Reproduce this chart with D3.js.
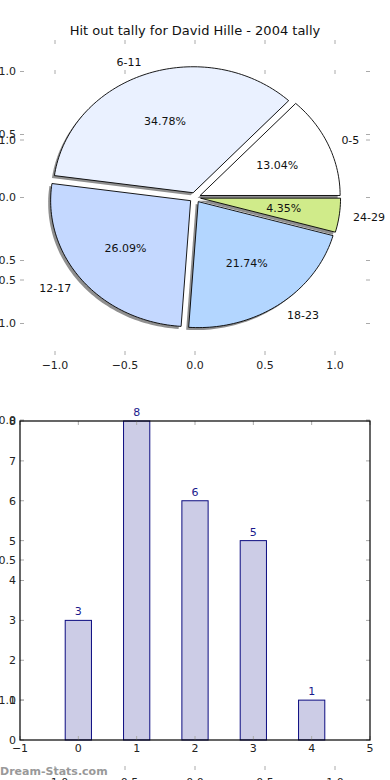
<!DOCTYPE html>
<html>
<head>
<meta charset="utf-8">
<script src="https://cdn.jsdelivr.net/npm/d3@7"></script>
<style>
  body { margin: 0; background: #fff; }
  text { font-family: "DejaVu Sans", sans-serif; }
</style>
</head>
<body>
<div id="chart"></div>
<script>
// chart data
var title = "Hit out tally for David Hille - 2004 tally"
var pieLabels = ["0-5", "6-11", "12-17", "18-23", "24-29"]
var pieValues = [3, 8, 6, 5, 1]
var pieColors = ["#ffffff", "#eaf1ff", "#c4d8ff", "#b3d6ff", "#d0eb8a"]
var barCats = [0, 1, 2, 3, 4]
var barValues = [3, 8, 6, 5, 1]
var unitTicks = [-1, -0.5, 0, 0.5, 1]
var barXTicks = [-1, 0, 1, 2, 3, 4, 5]
var barYTicks = [0, 1, 2, 3, 4, 5, 6, 7, 8]

var width = 390
var height = 780
var explode = 0.04
var tickCol = "#aaa"

var svg = d3.select("#chart").append("svg")
    .attr("width", width)
    .attr("height", height)

var fmt = function(v){
  return d3.format(".1f")(v).replace("-", "\u2212")
}

// draws the little inward ticks + labels the way the old matplotlib style did
var drawTicks = function(g, xs, ys, xt, yt, box, xoff, xfmt, yfmt){
  var tl = 4
  g.selectAll(null).data(xt).enter().append("line")
    .attr("x1", function(d){ return xs(d) }).attr("x2", function(d){ return xs(d) })
    .attr("y1", box.top).attr("y2", box.top + tl)
    .attr("stroke", tickCol)
  g.selectAll(null).data(xt).enter().append("line")
    .attr("x1", function(d){ return xs(d) }).attr("x2", function(d){ return xs(d) })
    .attr("y1", box.bottom).attr("y2", box.bottom - tl)
    .attr("stroke", tickCol)
  g.selectAll(null).data(yt).enter().append("line")
    .attr("y1", function(d){ return ys(d) }).attr("y2", function(d){ return ys(d) })
    .attr("x1", box.left).attr("x2", box.left + tl)
    .attr("stroke", tickCol)
  g.selectAll(null).data(yt).enter().append("line")
    .attr("y1", function(d){ return ys(d) }).attr("y2", function(d){ return ys(d) })
    .attr("x1", box.right).attr("x2", box.right - tl)
    .attr("stroke", tickCol)
  g.selectAll(null).data(xt).enter().append("text")
    .attr("x", function(d){ return xs(d) })
    .attr("y", box.bottom + xoff)
    .attr("text-anchor", "middle")
    .attr("font-size", 11)
    .attr("fill", "#222")
    .text(xfmt)
  g.selectAll(null).data(yt).enter().append("text")
    .attr("x", box.left - 4)
    .attr("y", function(d){ return ys(d) })
    .attr("dy", "0.36em")
    .attr("text-anchor", "end")
    .attr("font-size", 11)
    .attr("fill", "#222")
    .text(yfmt)
}

// ---- phantom axes behind everything (left over from the figure)
var ph = {left: 20, right: 370, top: 70, bottom: 770}
var phx = d3.scaleLinear().domain([-1.25, 1.25]).range([ph.left, ph.right])
var phy = d3.scaleLinear().domain([-1.25, 1.25]).range([ph.bottom, ph.top])
drawTicks(svg.append("g"), phx, phy, unitTicks, unitTicks, ph, 16, fmt, fmt)

// ---- pie
var pb = {left: 20, right: 370, top: 40, bottom: 355}
var px = d3.scaleLinear().domain([-1.25, 1.25]).range([pb.left, pb.right])
var py = d3.scaleLinear().domain([-1.25, 1.25]).range([pb.bottom, pb.top])
drawTicks(svg.append("g"), px, py, unitTicks, unitTicks, pb, 14, fmt, fmt)

svg.append("text")
  .attr("x", width / 2)
  .attr("y", 35)
  .attr("text-anchor", "middle")
  .attr("font-size", 13)
  .attr("fill", "#111")
  .text(title)

var total = d3.sum(pieValues)
var arcs = d3.pie().sort(null)(pieValues)

var wedgePath = function(a, dx, dy){
  var cx = explode * Math.cos((a.startAngle + a.endAngle) / 2)
  var cy = explode * Math.sin((a.startAngle + a.endAngle) / 2)
  var n = Math.max(4, Math.ceil((a.endAngle - a.startAngle) * 40))
  var pts = [[cx, cy]]
  for (var i = 0; i <= n; i++) {
    var t = a.startAngle + (a.endAngle - a.startAngle) * i / n
    pts.push([cx + Math.cos(t), cy + Math.sin(t)])
  }
  pts.push([cx, cy])
  return d3.line()
    .x(function(p){ return px(p[0]) + dx })
    .y(function(p){ return py(p[1]) + dy })(pts) + "Z"
}

var pieG = svg.append("g")
arcs.forEach(function(a, i){
  pieG.append("path")
    .attr("d", wedgePath(a, -2.5, 2.5))
    .attr("fill", "#444")
    .attr("opacity", 0.6)
  pieG.append("path")
    .attr("d", wedgePath(a, 0, 0))
    .attr("fill", pieColors[i])
    .attr("stroke", "#000")
    .attr("stroke-width", 0.9)
})

arcs.forEach(function(a, i){
  var mid = (a.startAngle + a.endAngle) / 2
  var c = Math.cos(mid), s = Math.sin(mid)
  pieG.append("text")
    .attr("x", px((1.1 + explode) * c))
    .attr("y", py((1.1 + explode) * s))
    .attr("dy", "0.36em")
    .attr("text-anchor", c > 0 ? "start" : "end")
    .attr("font-size", 11)
    .attr("fill", "#111")
    .text(pieLabels[i])
  pieG.append("text")
    .attr("x", px((0.6 + explode) * c))
    .attr("y", py((0.6 + explode) * s))
    .attr("dy", "0.36em")
    .attr("text-anchor", "middle")
    .attr("font-size", 11)
    .attr("fill", "#111")
    .text(d3.format(".2f")(pieValues[i] / total * 100) + "%")
})

// ---- bar chart
var bb = {left: 20, right: 370, top: 421, bottom: 740}
var bx = d3.scaleLinear().domain([-1, 5]).range([bb.left, bb.right])
var by = d3.scaleLinear().domain([0, 8]).range([bb.bottom, bb.top])
var barW = 0.45

var barG = svg.append("g")
barG.selectAll("rect").data(barValues).enter().append("rect")
  .attr("x", function(d, i){ return bx(barCats[i] - barW / 2) })
  .attr("width", function(){ return bx(barW) - bx(0) })
  .attr("y", function(d){ return by(d) })
  .attr("height", function(d){ return by(0) - by(d) })
  .attr("fill", "#ccccE6")
  .attr("stroke", "#0c0c80")
  .attr("stroke-width", 1)

barG.selectAll("text.val").data(barValues).enter().append("text")
  .attr("class", "val")
  .attr("x", function(d, i){ return bx(barCats[i]) })
  .attr("y", function(d){ return by(d) - 5 })
  .attr("text-anchor", "middle")
  .attr("font-size", 11)
  .attr("fill", "#1a1a8c")
  .text(function(d){ return d })

drawTicks(svg.append("g"), bx, by, barXTicks, barYTicks, bb, 12,
  function(d){ return String(d).replace("-", "\u2212") },
  function(d){ return d })

svg.append("rect")
  .attr("x", bb.left).attr("y", bb.top)
  .attr("width", bb.right - bb.left).attr("height", bb.bottom - bb.top)
  .attr("fill", "none")
  .attr("stroke", "#000")
  .attr("stroke-width", 1.2)

// watermark
svg.append("text")
  .attr("x", 0)
  .attr("y", 775)
  .attr("font-size", 11)
  .attr("font-weight", "bold")
  .attr("fill", "#999")
  .text("Dream-Stats.com")
</script>
</body>
</html>
